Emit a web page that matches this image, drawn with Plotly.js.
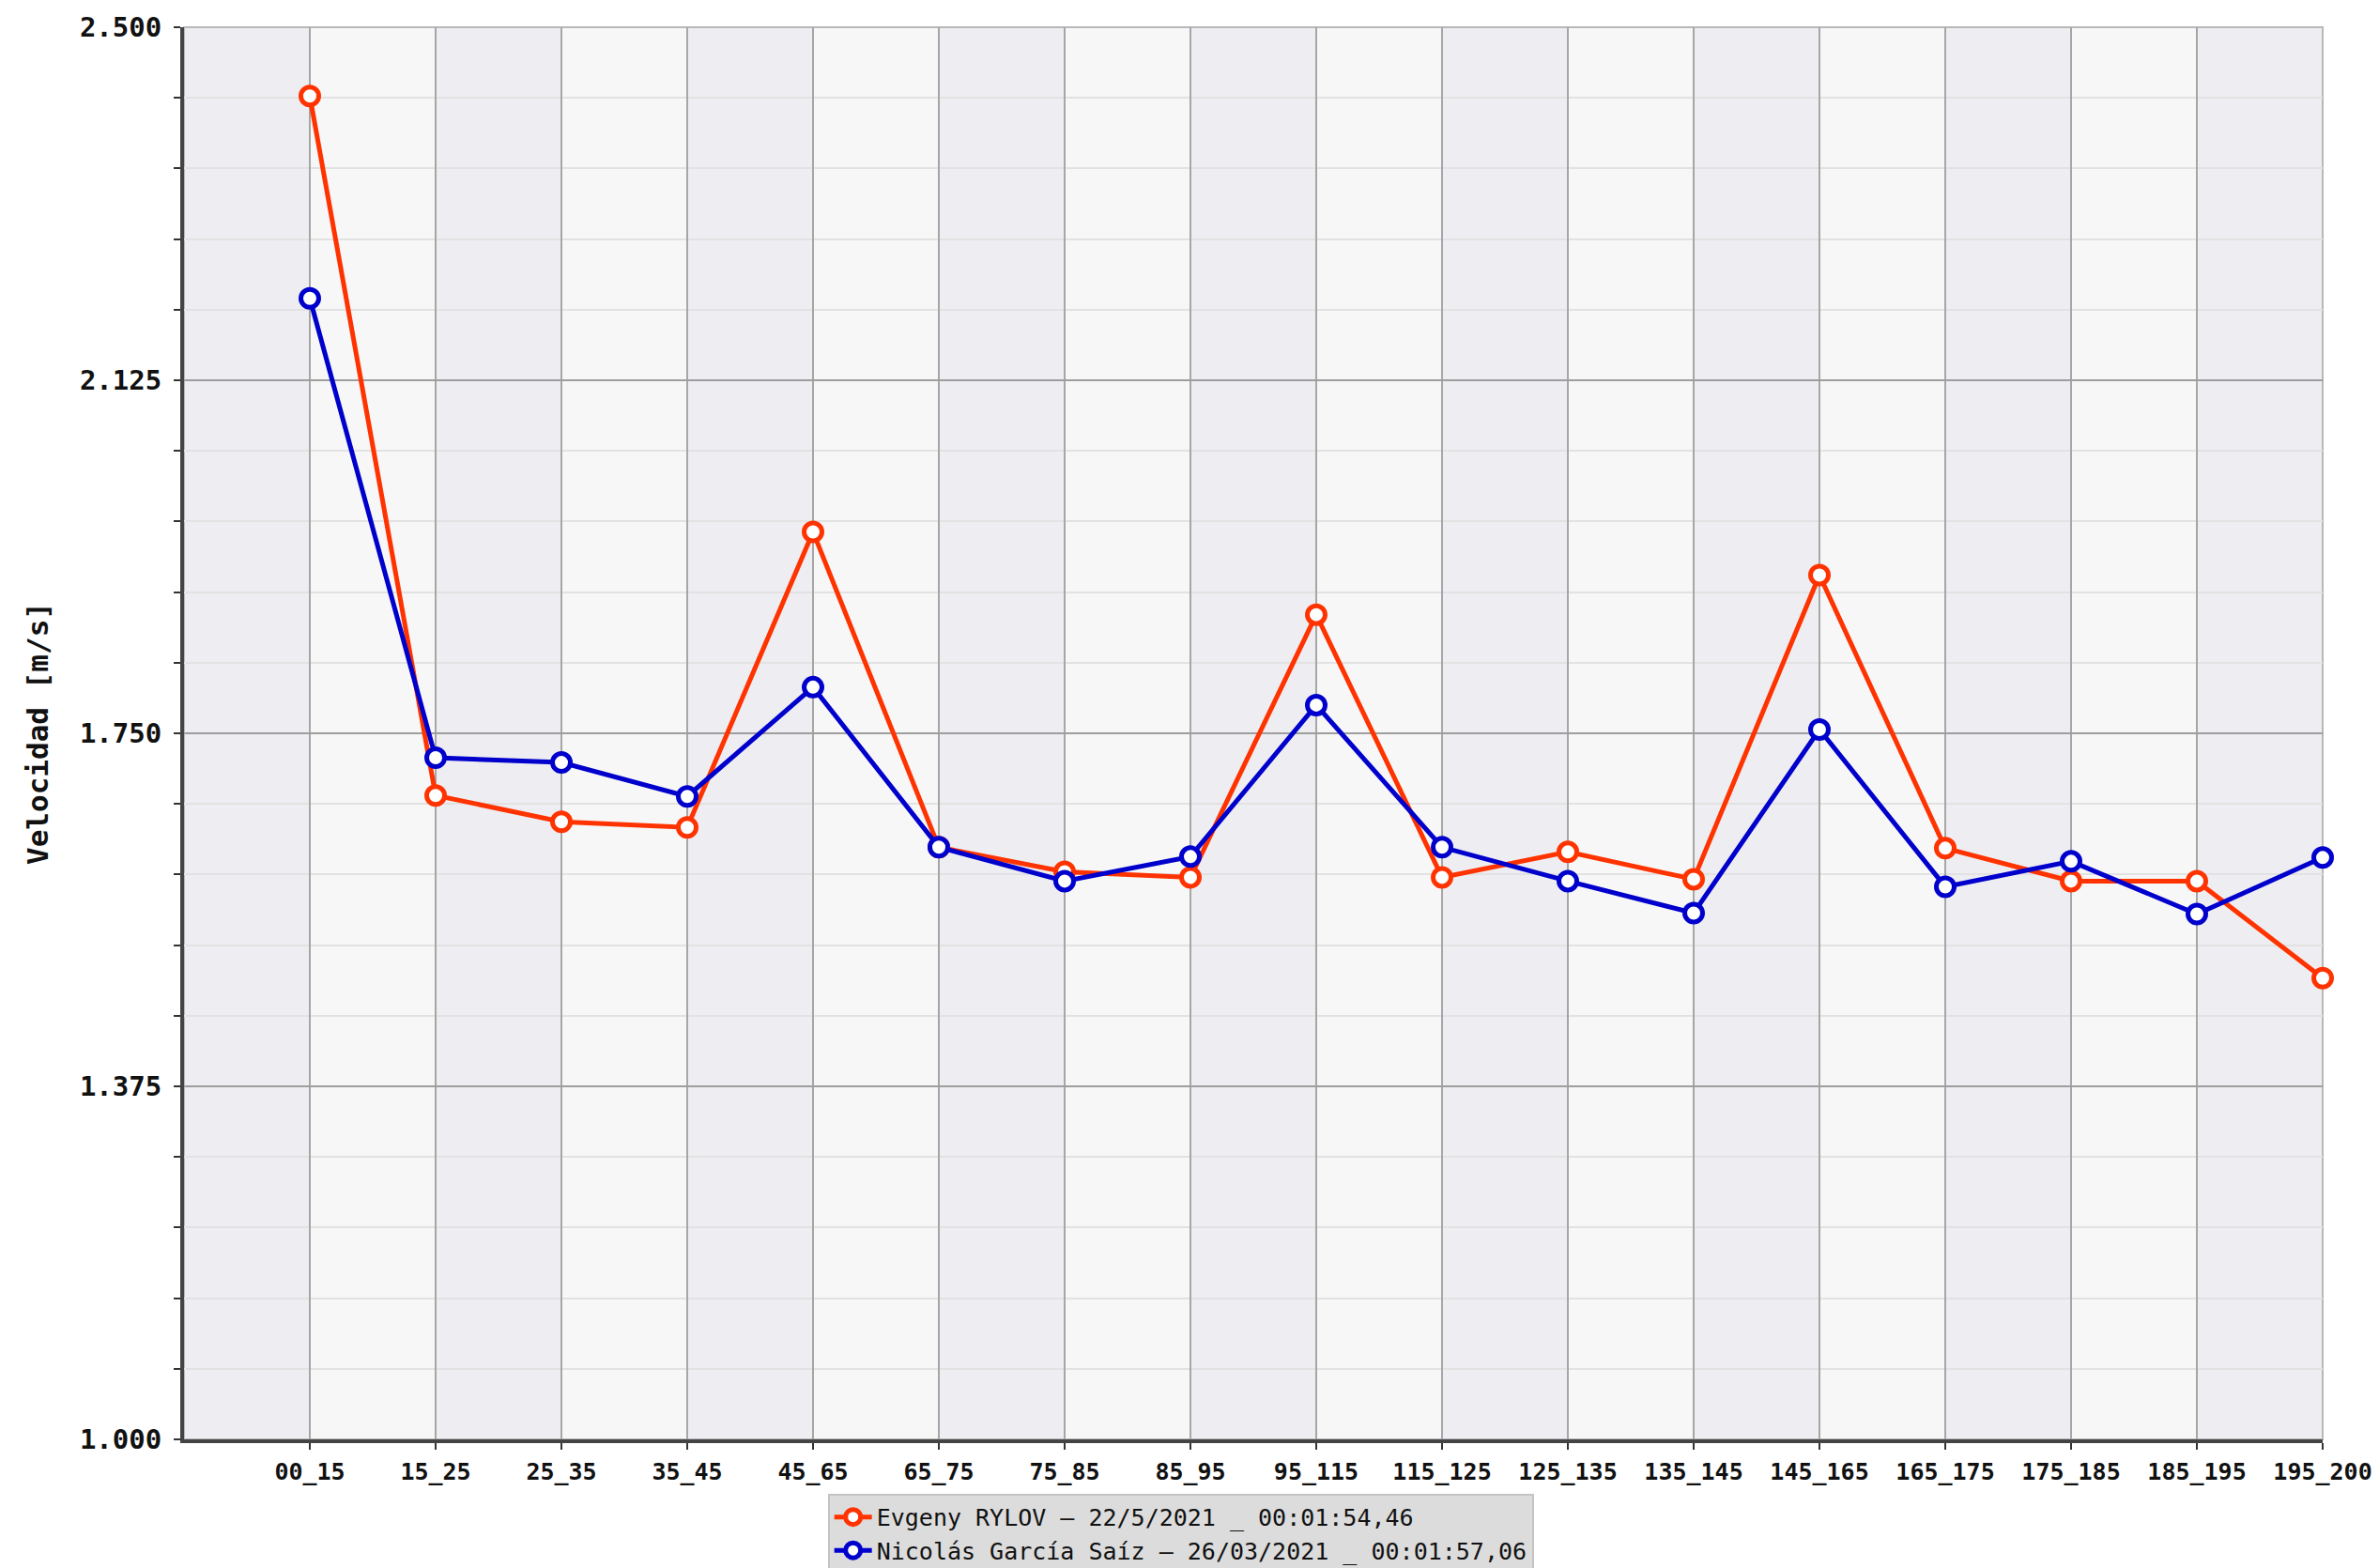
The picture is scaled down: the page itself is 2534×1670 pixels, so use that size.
<!DOCTYPE html>
<html>
<head>
<meta charset="utf-8">
<script src="https://cdn.plot.ly/plotly-3.0.1.min.js"></script>
<style>
html,body{margin:0;padding:0;background:#fff;}
#chart{width:2534px;height:1670px;}
</style>
</head>
<body>
<div id="chart"></div>
<script>
const categories = ["00_15","15_25","25_35","35_45","45_65","65_75","75_85","85_95","95_115","115_125","125_135","135_145","145_165","165_175","175_185","185_195","195_200"];
const rylovName = "Evgeny RYLOV – 22/5/2021 _ 00:01:54,46";
const rylovValues = [2.427,1.684,1.656,1.650,1.964,1.629,1.603,1.597,1.876,1.597,1.624,1.595,1.918,1.628,1.593,1.593,1.490];
const garciaName = "Nicolás García Saíz – 26/03/2021 _ 00:01:57,06";
const garciaValues = [2.212,1.724,1.719,1.683,1.799,1.629,1.593,1.619,1.780,1.629,1.593,1.559,1.754,1.587,1.614,1.558,1.618];
const yTickVals = [1.0,1.375,1.75,2.125,2.5];
const yTickText = ["1.000","1.375","1.750","2.125","2.500"];
const yTitle = "Velocidad [m/s]";

const mono = "'DejaVu Sans Mono', monospace";

function series(name, values, color, group) {
  return {
    type: 'scatter', mode: 'lines+markers', name: name,
    x: categories, y: values, legendgroup: group,
    line: {color: color, width: 5},
    marker: {symbol: 'circle', size: 19, color: '#ffffff', line: {color: color, width: 5}},
    cliponaxis: false
  };
}

const traces = [
  series(rylovName, rylovValues, '#ff3300', 'a'),
  series(garciaName, garciaValues, '#0000cc', 'b')
];

// alternating background stripes between category positions
const shapes = [];
for (let i = 0; i <= categories.length - 1; i += 2) {
  shapes.push({type:'rect', layer:'below', xref:'x', yref:'paper',
    x0: i - 1, x1: i, y0: 0, y1: 1, fillcolor:'#eeeef2', line:{width:0}});
}
shapes.push({type:'rect', layer:'below', xref:'paper', yref:'paper',
  x0:0, x1:1, y0:0, y1:1, fillcolor:'rgba(0,0,0,0)', line:{color:'#b8b8b8', width:2}});

const layout = {
  width: 2534, height: 1670,
  margin: {l:196, r:60, t:29, b:137, autoexpand: false},
  paper_bgcolor: '#ffffff',
  plot_bgcolor: '#f7f7f7',
  font: {family: mono, color: '#111'},
  showlegend: true,
  shapes: shapes,
  xaxis: {
    type: 'category',
    range: [-1, categories.length - 1],
    showgrid: true, gridcolor: '#a6a6a6', gridwidth: 2,
    showline: true, linecolor: '#444', linewidth: 4,
    ticks: 'outside', ticklen: 7, tickwidth: 2, tickcolor: '#333',
    tickfont: {family: mono, size: 25, color: '#111', weight: 'bold'},
    ticklabelstandoff: 2,
    automargin: false,
    zeroline: false, fixedrange: true
  },
  yaxis: {
    range: [1.0, 2.5],
    tickvals: yTickVals, ticktext: yTickText,
    showgrid: true, gridcolor: '#9e9e9e', gridwidth: 2,
    showline: true, linecolor: '#444', linewidth: 4,
    ticks: '',
    minor: {dtick: 0.075, tick0: 1.0, ticks: 'outside', ticklen: 7, tickwidth: 2, tickcolor: '#333',
            showgrid: true, gridcolor: '#e2e2e2', gridwidth: 2},
    tickfont: {family: mono, size: 29, color: '#111', weight: 'bold'},
    ticklabelstandoff: 14,
    title: {text: yTitle, font: {family: mono, size: 31, color: '#111', weight: 'bold'}, standoff: 25},
    automargin: false,
    zeroline: false, fixedrange: true
  },
  legend: {
    x: 0.301, xanchor: 'left', y: -0.0385, yanchor: 'top',
    orientation: 'v',
    bgcolor: '#dcdcdc', bordercolor: '#c4c4c4', borderwidth: 2,
    font: {family: mono, size: 25, color: '#111'},
    itemwidth: 40, tracegroupgap: 0
  }
};

Plotly.newPlot('chart', traces, layout, {staticPlot: true, displayModeBar: false});
</script>
</body>
</html>
